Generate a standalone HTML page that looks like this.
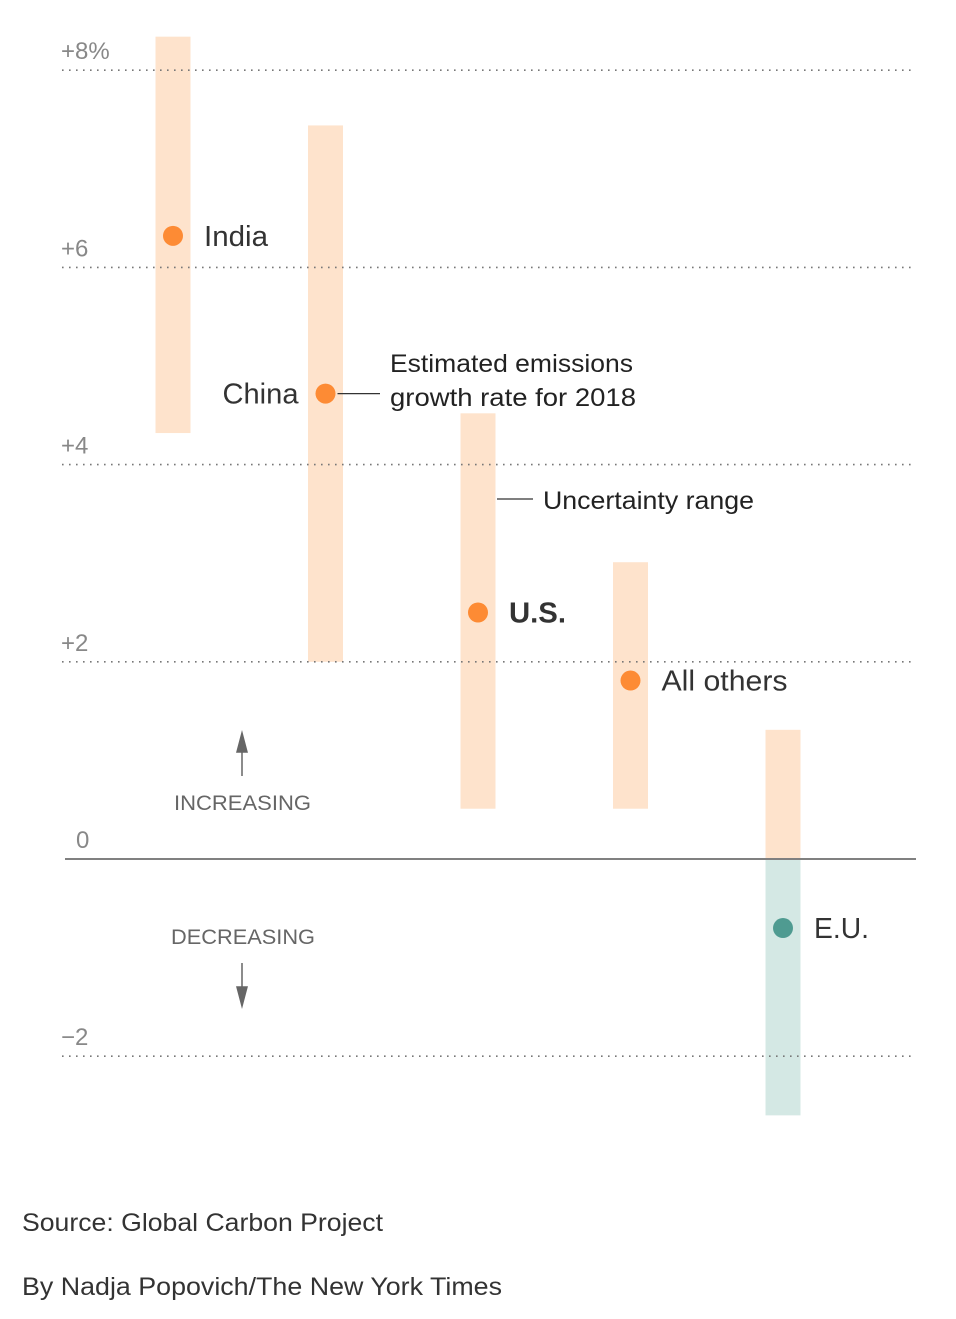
<!DOCTYPE html>
<html><head><meta charset="utf-8">
<style>
html,body{margin:0;padding:0;background:#fff;}
body{width:956px;height:1314px;overflow:hidden;font-family:"Liberation Sans",sans-serif;}
svg text{font-family:"Liberation Sans",sans-serif;}
</style></head>
<body>
<svg id="chart" width="956" height="1314" xmlns="http://www.w3.org/2000/svg"></svg>
<script>
const categories = ["India","China","U.S.","All others","E.U."];
const estimates = [6.32, 4.72, 2.5, 1.81, -0.7];
const lows = [4.32, 2.0, 0.51, 0.51, -2.6];
const highs = [8.34, 7.44, 4.52, 3.01, 1.31];
const ticks = [8, 6, 4, 2, 0, -2];
const tickLabels = ["+8%", "+6", "+4", "+2", "0", "\u22122"];

const NS = "http://www.w3.org/2000/svg";
const svg = document.getElementById("chart");
const y = v => 859 - v * 98.6;
const x = i => 173 + i * 152.5;
function mk(tag, attrs, parent){
  const e = document.createElementNS(NS, tag);
  for (const k in attrs) e.setAttribute(k, attrs[k]);
  (parent || svg).appendChild(e);
  return e;
}
// bars
categories.forEach((c, i) => {
  const hi = highs[i], lo = lows[i];
  if (hi > 0) {
    const r = mk("rect", {x:x(i)-17.5, width:35, y:y(hi), height:y(Math.max(lo,0))-y(hi), fill:"#fee3cc"});
    
    
  }
  if (lo < 0) {
    const r = mk("rect", {x:x(i)-17.5, width:35, y:y(Math.min(hi,0)), height:y(lo)-y(Math.min(hi,0)), fill:"#d4e8e4"});
    
    
  }
});
// gridlines (over bars)
ticks.forEach((t, i) => {
  if (t !== 0) {
    const l = mk("line", {x1:62, x2:916, y1:y(t), y2:y(t), stroke:"#777", "stroke-width":1.6, "stroke-dasharray":"1.6 5.4"});
    
    
  }
  const tx = mk("text", {x: t === 0 ? 76 : 61, y: y(t) - 11, fill:"#888", "font-size":24});
  tx.textContent = tickLabels[i];
  
  
});
// zero line
const z = mk("line", {x1:65, x2:916, y1:y(0), y2:y(0), stroke:"#808080", "stroke-width":2});


// dots and labels
const labelPos = [
  {dx:31, anchor:"start", weight:"normal", len:64},
  {dx:-27, anchor:"end", weight:"normal", len:76},
  {dx:31, anchor:"start", weight:"bold", len:57},
  {dx:31, anchor:"start", weight:"normal", len:126},
  {dx:31, anchor:"start", weight:"normal", len:55}
];
categories.forEach((c, i) => {
  const d = mk("circle", {cx:x(i), cy:y(estimates[i]), r:10, fill: estimates[i] < 0 ? "#4f9b91" : "#fd8b34"});
  
  
  const p = labelPos[i];
  const t = mk("text", {x:x(i)+p.dx, y:y(estimates[i])+10, "text-anchor":p.anchor, "font-size":29, "font-weight":p.weight, fill:"#333", textLength:p.len, lengthAdjust:"spacingAndGlyphs"});
  t.textContent = c;
  
  
});
// annotations
const a1 = mk("line", {x1:x(1)+12, x2:380, y1:y(estimates[1]), y2:y(estimates[1]), stroke:"#333", "stroke-width":1.3});


const at1 = mk("text", {x:390, y:372, "font-size":25, fill:"#222"});


at1.innerHTML = '<tspan x="390" textLength="243" lengthAdjust="spacingAndGlyphs">Estimated emissions</tspan><tspan x="390" dy="34" textLength="246" lengthAdjust="spacingAndGlyphs">growth rate for 2018</tspan>';
const a2 = mk("line", {x1:497, x2:533, y1:499, y2:499, stroke:"#333", "stroke-width":1.3});


const at2 = mk("text", {x:543, y:509, "font-size":25, fill:"#222", textLength:211, lengthAdjust:"spacingAndGlyphs"});
at2.textContent = "Uncertainty range";


// direction labels
const inc = mk("text", {x:174, y:810, "font-size":21, fill:"#666", textLength:137, lengthAdjust:"spacingAndGlyphs"});
inc.textContent = "INCREASING";


const dec = mk("text", {x:171, y:944, "font-size":21, fill:"#666", textLength:144, lengthAdjust:"spacingAndGlyphs"});
dec.textContent = "DECREASING";


const up = mk("path", {d:"M242 776 V742 M237 752 L242 733 L247 752 Z", stroke:"#666", "stroke-width":1.5, fill:"#666"});


const dn = mk("path", {d:"M242 963 V996 M237 987 L242 1006 L247 987 Z", stroke:"#666", "stroke-width":1.5, fill:"#666"});


// footer
const src = mk("text", {x:22, y:1231, "font-size":25, fill:"#333", textLength:361, lengthAdjust:"spacingAndGlyphs"});
src.textContent = "Source: Global Carbon Project";


const by = mk("text", {x:22, y:1295, "font-size":25, fill:"#333", textLength:480, lengthAdjust:"spacingAndGlyphs"});
by.textContent = "By Nadja Popovich/The New York Times";


</script>
</body></html>
